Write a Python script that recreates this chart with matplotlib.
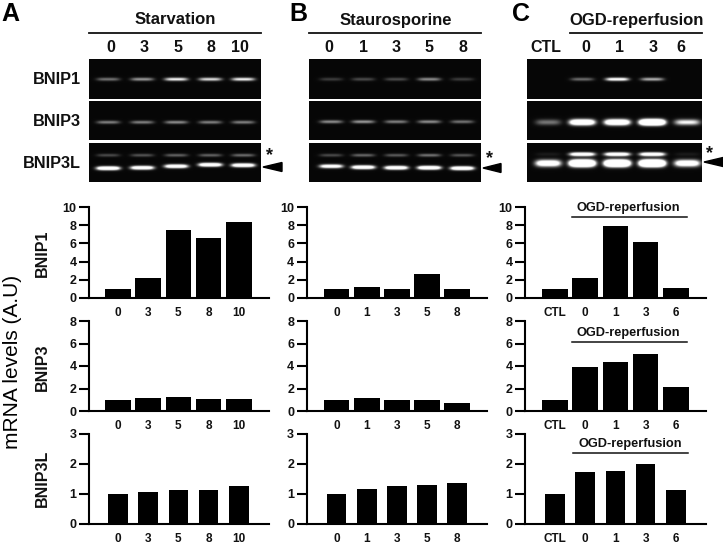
import numpy as np
import matplotlib
matplotlib.use("Agg")
import matplotlib.pyplot as plt
from matplotlib.patches import Polygon

plt.rcParams["font.family"] = ["Liberation Sans", "DejaVu Sans"]
plt.rcParams["font.weight"] = "bold"

W, H = 723, 546
TEXT = "#111111"

# bar values
labels_a = ["0", "3", "5", "8", "10"]
labels_b = ["0", "1", "3", "5", "8"]
labels_c = ["CTL", "0", "1", "3", "6"]

a_bnip1 = [1.0, 2.2, 7.5, 6.6, 8.3]
a_bnip3 = [1.0, 1.15, 1.25, 1.1, 1.1]
a_bnip3l = [1.0, 1.07, 1.12, 1.15, 1.27]

b_bnip1 = [1.0, 1.2, 0.95, 2.65, 1.03]
b_bnip3 = [1.0, 1.13, 0.95, 0.95, 0.75]
b_bnip3l = [1.01, 1.16, 1.27, 1.3, 1.38]

c_bnip1 = [1.0, 2.25, 7.9, 6.1, 1.1]
c_bnip3 = [1.0, 3.9, 4.35, 5.05, 2.15]
c_bnip3l = [1.0, 1.73, 1.78, 2.0, 1.12]

# gel band brightness per lane
gel_a1 = [0.45, 0.6, 1.0, 0.9, 1.0]
gel_a3 = [0.5, 0.5, 0.55, 0.5, 0.5]
gel_a3l = [1.8, 1.6, 1.6, 1.7, 1.7]
gel_a3l_up = [0.28, 0.32, 0.38, 0.38, 0.42]

gel_b1 = [0.22, 0.28, 0.28, 0.55, 0.22]
gel_b3 = [0.55, 0.6, 0.5, 0.55, 0.45]
gel_b3l = [1.4, 1.7, 1.7, 1.8, 1.8]
gel_b3l_up = [0.28, 0.4, 0.35, 0.45, 0.33]

gel_c1 = [0.0, 0.42, 1.2, 0.7, 0.0]
gel_c3 = [0.45, 2.0, 2.0, 3.0, 1.0]
gel_c3l = [1.6, 3.2, 3.2, 3.4, 1.6]
gel_c3l_up = [0.08, 1.6, 1.6, 1.6, 0.08]


def px_axes(fig, x0, x1, ytop, ybot):
    return fig.add_axes([x0 / W, 1 - ybot / H, (x1 - x0) / W, (ybot - ytop) / H])


def bar_panel(fig, x0, xs, ytop, ybot, vals, labels, yticks, width):
    # xs = (first bar centre, spacing) in px, axis runs from x0 to the right end
    c0, step = xs
    x1 = c0 + step * 4 + 30
    ax = px_axes(fig, x0, x1, ytop, ybot)
    ax.bar(range(5), vals, width=width / step, color="black", edgecolor="none", zorder=3)
    ax.set_xlim((x0 - c0) / step, (x1 - c0) / step)
    ax.set_ylim(0, yticks[-1])
    ax.set_yticks(yticks)
    ax.set_xticks(range(5))
    ax.set_xticklabels(labels)
    ax.tick_params(axis="y", length=7, width=1.5, labelsize=9, pad=2, labelcolor=TEXT)
    ax.tick_params(axis="x", length=0, labelsize=8.5, pad=6.5, labelcolor=TEXT)
    ax.patch.set_visible(False)
    for s in ["top", "right"]:
        ax.spines[s].set_visible(False)
    ax.spines["left"].set_linewidth(1.5)
    ax.spines["bottom"].set_linewidth(1.5)
    return ax


def gel(ov, x0, x1, y0, y1, lanes, levels, band_y, sx=11.5, sy=1.6, extra=None):
    xx, yy = np.meshgrid(np.arange(x0, x1, 0.5), np.arange(y0, y1, 0.5))
    img = np.zeros_like(xx)
    for i, (c, lv) in enumerate(zip(lanes, levels)):
        by = band_y[i] if np.ndim(band_y) else band_y
        img += lv * np.exp(-((xx - c) / sx) ** 4) * np.exp(-((yy - by) / sy) ** 2)
    if extra is not None:
        ys, lv2, sy2 = extra
        for c, lv in zip(lanes, lv2):
            img += lv * np.exp(-((xx - c) / sx) ** 4) * np.exp(-((yy - ys) / sy2) ** 2)
    ov.imshow(np.clip(img, 0, 1) * 0.97 + 0.03, cmap="gray", vmin=0, vmax=1, extent=(x0, x1, y1, y0),
              aspect="auto", interpolation="bilinear", zorder=1)


def arrow_star(ov, sx, sy, tip, base, ay):
    ov.add_patch(Polygon([(tip, ay), (base, ay - 4.5), (base, ay + 4.5)], color="black", zorder=3))
    ov.text(sx, sy, "*", ha="center", va="center", fontsize=13, color=TEXT)


fig = plt.figure(figsize=(W / 100, H / 100), dpi=100, facecolor="white")
ov = fig.add_axes([0, 0, 1, 1])
ov.axis("off")

# gel rows for the three panels
rows = [(59, 99), (101, 140), (143, 182)]
lanes_a = [108, 142, 176, 210, 243]
lanes_b = [331, 363, 396, 429, 462]
lanes_c = [548, 582, 617, 652, 687]

gel(ov, 89, 261, *rows[0], lanes_a, gel_a1, 79)
gel(ov, 89, 261, *rows[1], lanes_a, gel_a3, 122)
gel(ov, 89, 261, *rows[2], lanes_a, gel_a3l, [168, 167.5, 166, 164.5, 165], sy=1.8, extra=(155, gel_a3l_up, 1.5))

gel(ov, 309, 481, *rows[0], lanes_b, gel_b1, 79)
gel(ov, 309, 481, *rows[1], lanes_b, gel_b3, 121.5)
gel(ov, 309, 481, *rows[2], lanes_b, gel_b3l, [166, 167, 167.5, 167.5, 168], sy=1.8, extra=(155, gel_b3l_up, 1.5))

gel(ov, 527, 702, *rows[0], lanes_c, gel_c1, 79)
gel(ov, 527, 702, *rows[1], lanes_c, gel_c3, 122, sx=12.5, sy=2.8)
gel(ov, 527, 702, *rows[2], lanes_c, gel_c3l, 163, sx=12.5, sy=3.2, extra=(154, gel_c3l_up, 1.8))

ov.set_xlim(0, W)
ov.set_ylim(H, 0)

# panel headers
for letter, lx, title, tx, lane_x, lane_lbl, l0, l1 in [
    ("A", 10, "Starvation", 175, [111, 144, 178, 211, 240], labels_a, 89, 261),
    ("B", 298, "Staurosporine", 396, [329, 363, 396, 429, 463], labels_b, 309, 481),
    ("C", 521, "OGD-reperfusion", 637, [546, 586, 619, 653, 681], labels_c, 570, 702),
]:
    ov.text(lx, 14, letter, ha="center", va="center", fontsize=18, color="black")
    ov.text(tx, 20, title, ha="center", va="center", fontsize=12, color=TEXT)
    ov.plot([l0, l1], [33, 33], color="#111111", lw=1.3)
    for x, s in zip(lane_x, lane_lbl):
        ov.text(x, 47, s, ha="center", va="center", fontsize=11.5, color=TEXT)

for name, y in [("BNIP1", 80), ("BNIP3", 122), ("BNIP3L", 164)]:
    ov.text(81, y, name, ha="right", va="center", fontsize=11.7, color=TEXT)

arrow_star(ov, 270, 156, 263, 282, 167)
arrow_star(ov, 490, 159, 483, 501, 168)
arrow_star(ov, 710, 154, 704, 723, 162)

ov.text(13, 362, "mRNA levels (A.U)", rotation=90, ha="center", va="center",
        fontsize=15, fontweight="normal", color="black")
for name, y in [("BNIP1", 253), ("BNIP3", 367), ("BNIP3L", 478)]:
    ov.text(42, y, name, rotation=90, ha="center", va="center", fontsize=11.5, color=TEXT)

# bar charts
rows_y = [(207, 298, [0, 2, 4, 6, 8, 10], 25.5), (321, 411, [0, 2, 4, 6, 8], 25.5), (434, 524, [0, 1, 2, 3], 19.5)]
for (yt, yb, ticks, w), a, b, c in zip(rows_y, [a_bnip1, a_bnip3, a_bnip3l],
                                       [b_bnip1, b_bnip3, b_bnip3l], [c_bnip1, c_bnip3, c_bnip3l]):
    bar_panel(fig, 89, (118, 30.2), yt, yb, a, labels_a, ticks, w)
    bar_panel(fig, 306.7, (336.7, 30.1), yt, yb, b, labels_b, ticks, w)
    bar_panel(fig, 525, (555, 30.2), yt, yb, c, labels_c, ticks, w)

for tx, ty, l0, l1, ly in [(628, 208, 572, 687, 217), (628, 333, 572, 687, 342), (630, 444, 573, 688, 453)]:
    ov.text(tx, ty, "OGD-reperfusion", ha="center", va="center", fontsize=9.2, color=TEXT)
    ov.plot([l0, l1], [ly, ly], color="#111111", lw=1.1)

ov.set_xlim(0, W)
ov.set_ylim(H, 0)

fig.savefig("out.png", dpi=100)
